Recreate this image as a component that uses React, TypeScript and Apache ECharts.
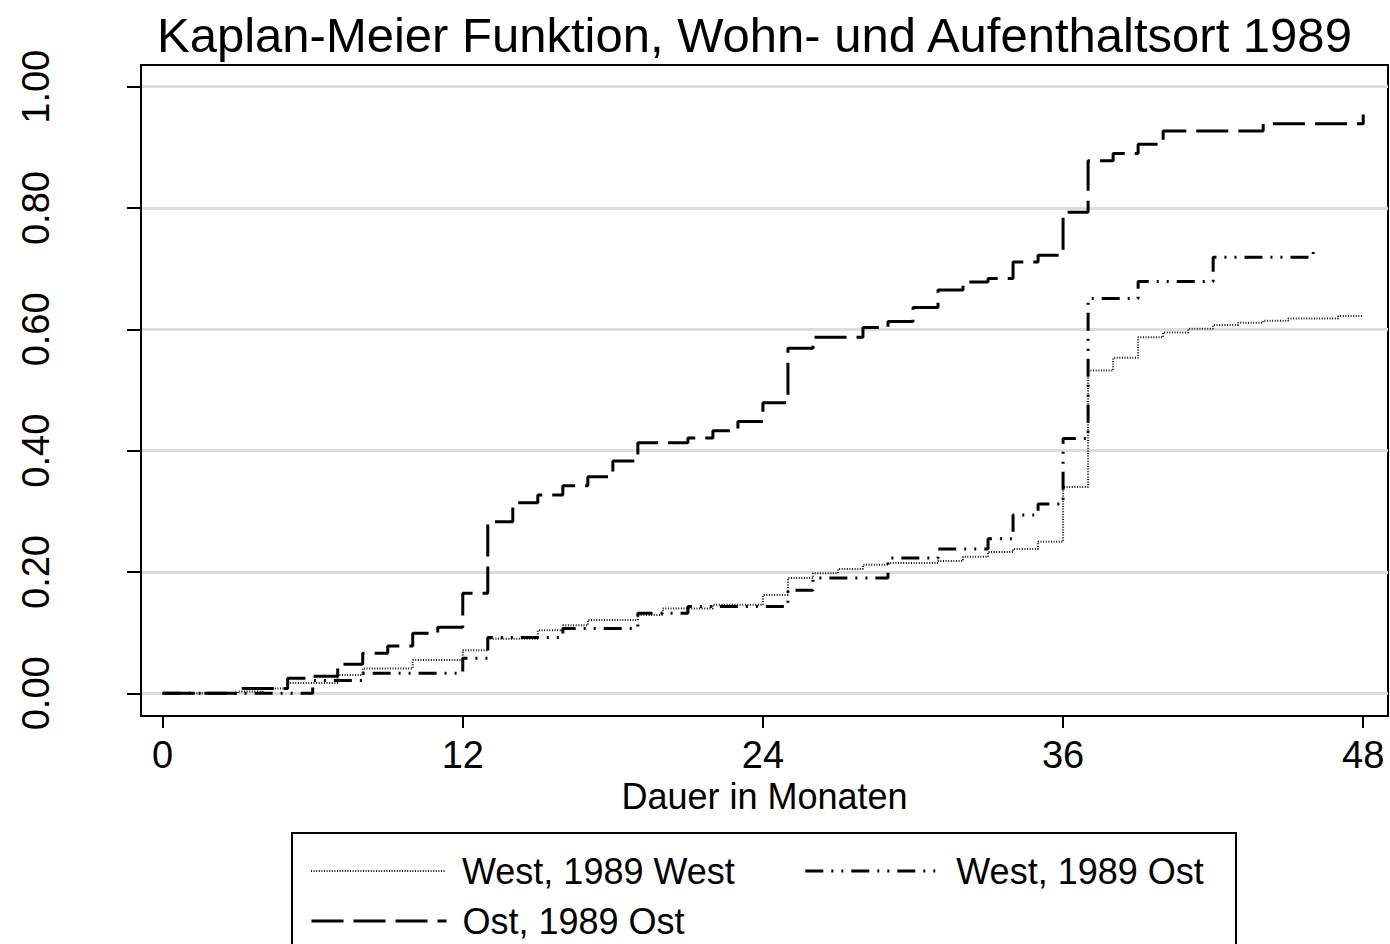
import React, { useEffect, useRef } from "react";
import * as echarts from "echarts";

const titleText = "Kaplan-Meier Funktion, Wohn- und Aufenthaltsort 1989";
const xAxisName = "Dauer in Monaten";
const xTickValues = [0, 12, 24, 36, 48];
const yTickValues = [0, 0.2, 0.4, 0.6, 0.8, 1.0];

const seriesNames = ["West, 1989 West", "West, 1989 Ost", "Ost, 1989 Ost"];

// West, 1989 West (dotted)
const westWestMonths = [0, 3, 4, 5, 7, 8, 10, 12, 13, 15, 16, 17, 19, 20, 22, 24, 25, 26, 27, 28, 29, 31, 32, 33, 34, 35, 36, 37, 38, 39, 40, 41, 42, 43, 44, 45, 47, 48];
const westWestValues = [0, 0.003, 0.008, 0.017, 0.03, 0.041, 0.055, 0.071, 0.09, 0.104, 0.112, 0.121, 0.129, 0.14, 0.146, 0.162, 0.19, 0.198, 0.205, 0.212, 0.215, 0.218, 0.225, 0.233, 0.238, 0.25, 0.34, 0.532, 0.553, 0.587, 0.595, 0.601, 0.607, 0.611, 0.614, 0.618, 0.622, 0.623];

// West, 1989 Ost (dash-dot)
const westOstMonths = [0, 6, 8, 12, 13, 16, 19, 21, 25, 26, 29, 31, 33, 34, 35, 36, 37, 39, 42, 46];
const westOstValues = [0, 0.021, 0.033, 0.058, 0.092, 0.107, 0.132, 0.143, 0.17, 0.19, 0.223, 0.238, 0.255, 0.294, 0.312, 0.42, 0.651, 0.679, 0.719, 0.739];

// Ost, 1989 Ost (long dash)
const ostOstMonths = [0, 3, 5, 6, 7, 8, 9, 10, 11, 12, 13, 14, 15, 16, 17, 18, 19, 21, 22, 23, 24, 25, 26, 28, 29, 30, 31, 32, 33, 34, 35, 36, 37, 38, 39, 40, 44, 48];
const ostOstValues = [0, 0.008, 0.025, 0.028, 0.048, 0.066, 0.078, 0.099, 0.109, 0.165, 0.283, 0.314, 0.327, 0.342, 0.357, 0.383, 0.413, 0.421, 0.433, 0.448, 0.479, 0.569, 0.587, 0.603, 0.613, 0.636, 0.665, 0.678, 0.684, 0.711, 0.722, 0.793, 0.878, 0.89, 0.905, 0.927, 0.939, 0.954];

const pairs = (t: number[], v: number[]) => t.map((x, i) => [x, v[i]]);

const FONT = "'Liberation Sans', Arial, sans-serif";

const lineStyles: any[] = [
  { color: "#111", width: 2, type: [1, 1.6] },
  { color: "#000", width: 3, type: [18, 8, 2, 8, 2, 8] },
  { color: "#000", width: 3, type: [32, 10] },
];

const legendItem = (i: number) => ({
  name: seriesNames[i],
  itemStyle: { opacity: 0, color: "transparent", borderWidth: 0 },
  lineStyle: lineStyles[i],
});

export default function App() {
  const ref = useRef<HTMLDivElement>(null);
  useEffect(() => {
    if (!ref.current) return;
    const chart = echarts.init(ref.current, undefined, { renderer: "svg" });
    chart.setOption({
      animation: false,
      backgroundColor: "#fff",
      textStyle: { fontFamily: FONT, color: "#000" },
      title: {
        text: titleText,
        left: 152,
        top: 5,
        textStyle: { fontSize: 49, fontWeight: "normal", color: "#000", fontFamily: FONT },
      },
      grid: {
        left: 141,
        right: 2,
        top: 65,
        bottom: 228,
        show: true,
        borderColor: "#000",
        borderWidth: 2,
        backgroundColor: "#fff",
      },
      xAxis: {
        type: "value",
        min: -0.864,
        max: 48.99,
        name: xAxisName,
        nameLocation: "middle",
        nameGap: 62,
        nameTextStyle: { fontSize: 36, color: "#000", fontFamily: FONT },
        axisLine: { show: true, onZero: false, lineStyle: { color: "#000", width: 2 } },
        axisTick: { show: true, length: 12, lineStyle: { color: "#000", width: 2 }, customValues: xTickValues },
        axisLabel: { fontSize: 38, color: "#000", margin: 20, customValues: xTickValues, fontFamily: FONT },
        splitLine: { show: false },
      },
      yAxis: {
        type: "value",
        min: -0.0374,
        max: 1.0358,
        axisLine: { show: true, onZero: false, lineStyle: { color: "#000", width: 2 } },
        axisTick: { show: true, length: 14, lineStyle: { color: "#000", width: 2 }, customValues: yTickValues },
        axisLabel: {
          fontSize: 38,
          color: "#000",
          rotate: 90,
          margin: 86,
          customValues: yTickValues,
          fontFamily: FONT,
          formatter: (v: number) => v.toFixed(2),
        },
        splitLine: { show: true, lineStyle: { color: "#dcdcdc", width: 3 } },
      },
      legend: [
        {
          data: [legendItem(0), legendItem(1)],
          left: 305,
          top: 848,
          itemWidth: 135,
          itemHeight: 20,
          itemGap: 69,
          textStyle: { fontSize: 36, color: "#000", fontFamily: FONT, padding: [0, 0, 0, 11] },
        },
        {
          data: [legendItem(2)],
          left: 305,
          top: 898,
          itemWidth: 135,
          itemHeight: 20,
          textStyle: { fontSize: 36, color: "#000", fontFamily: FONT, padding: [0, 0, 0, 11] },
        },
      ],
      graphic: [
        {
          type: "rect",
          shape: { x: 292, y: 833, width: 944, height: 140 },
          style: { fill: "none", stroke: "#000", lineWidth: 2 },
          z: 0,
        },
      ],
      series: [
        {
          name: seriesNames[0],
          type: "line",
          step: "end",
          symbol: "none",
          data: pairs(westWestMonths, westWestValues),
          lineStyle: lineStyles[0],
          itemStyle: { color: "#000" },
          z: 3,
        },
        {
          name: seriesNames[1],
          type: "line",
          step: "end",
          symbol: "none",
          data: pairs(westOstMonths, westOstValues),
          lineStyle: lineStyles[1],
          itemStyle: { color: "#000" },
          z: 4,
        },
        {
          name: seriesNames[2],
          type: "line",
          step: "end",
          symbol: "none",
          data: pairs(ostOstMonths, ostOstValues),
          lineStyle: lineStyles[2],
          itemStyle: { color: "#000" },
          z: 5,
        },
      ],
    });
    return () => chart.dispose();
  }, []);
  return <div ref={ref} style={{ width: 1390, height: 944, position: "absolute", left: 0, top: 0 }} />;
}
